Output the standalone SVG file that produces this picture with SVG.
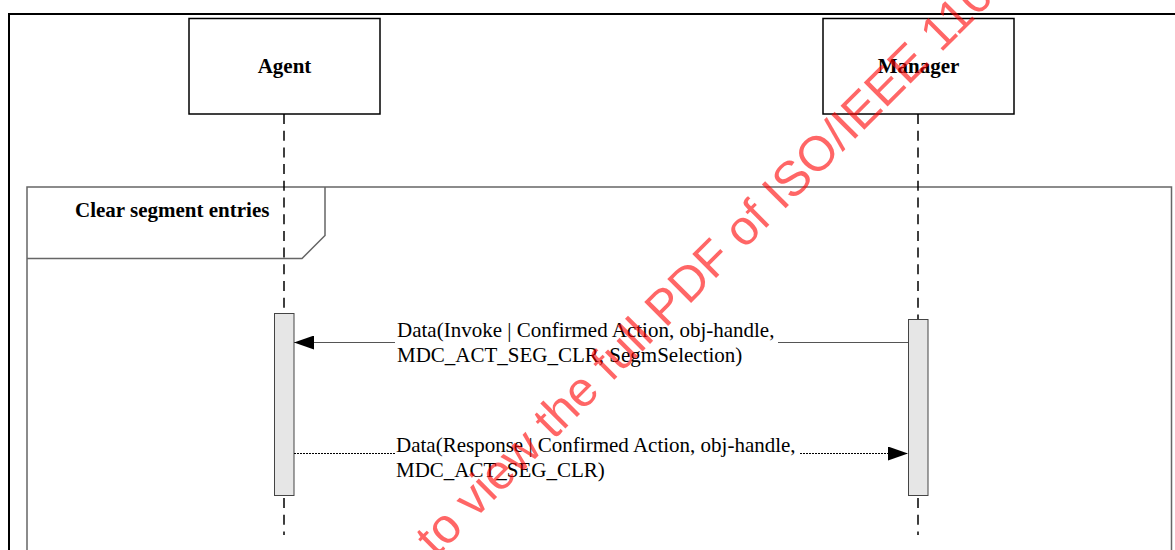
<svg xmlns="http://www.w3.org/2000/svg" width="1175" height="550" viewBox="0 0 1175 550">
<defs>
<style>
.lbl{font-family:"Liberation Serif","Times New Roman",serif;font-size:21px;font-weight:bold;fill:#000}
.msg{font-family:"Liberation Serif","Times New Roman",serif;font-size:21px;fill:#000}
.obj{fill:#fff;stroke:#000;stroke-width:1.5}
.life{stroke:#000;stroke-width:1.5;stroke-dasharray:10 6.7;fill:none}
.act{fill:#e6e6e6;stroke:#444;stroke-width:1}
.frag{fill:none;stroke:#666;stroke-width:1.5}
.wm{font-family:"Liberation Sans",Arial,sans-serif;font-size:49px;fill:#ff0000;fill-opacity:0.6}
</style>
<marker id="ah" markerWidth="20" markerHeight="14" refX="20" refY="7" orient="auto" markerUnits="userSpaceOnUse">
<path d="M0,0 L20,7 L0,14 Z" fill="#000"/>
</marker>
</defs>
<rect width="1175" height="550" fill="#fff"/>
<g id="outer-frame">
<path d="M9,551 L9,14 L1176,14" fill="none" stroke="#000" stroke-width="2"/>
</g>
<g id="fragment">
<path class="frag" d="M27,551 L27,187 L1171.5,187 L1171.5,551"/>
<path class="frag" d="M27,258.5 L302,258.5 L325,235.5 L325,187"/>
<text class="lbl" x="75" y="217">Clear segment entries</text>
</g>
<g id="agent">
<rect class="obj" x="189" y="18.5" width="191" height="95.5"/>
<text class="lbl" x="284.5" y="73" text-anchor="middle">Agent</text>
<line class="life" x1="284" y1="114" x2="284" y2="535"/>
<rect class="act" x="274.5" y="313.5" width="19.5" height="182"/>
</g>
<g id="manager">
<rect class="obj" x="823" y="18.5" width="191" height="95.5"/>
<text class="lbl" x="918.5" y="73" text-anchor="middle">Manager</text>
<line class="life" x1="918" y1="114" x2="918" y2="535"/>
<rect class="act" x="908.5" y="319.5" width="19.5" height="176"/>
</g>
<g id="connectors">
<g id="msg-invoke">
<line x1="908" y1="342.5" x2="778" y2="342.5" stroke="#555" stroke-width="1.2"/>
<line x1="395" y1="342.5" x2="294" y2="342.5" stroke="#555" stroke-width="1.2" marker-end="url(#ah)"/>
<text class="msg" x="397" y="337">Data(Invoke | Confirmed Action, obj-handle,</text>
<text class="msg" x="397" y="362">MDC_ACT_SEG_CLR, SegmSelection)</text>
</g>
<g id="msg-response">
<line x1="294" y1="453.5" x2="395" y2="453.5" stroke="#000" stroke-width="1.2" stroke-dasharray="2 1"/>
<line x1="800" y1="453.5" x2="908" y2="453.5" stroke="#000" stroke-width="1.2" stroke-dasharray="2 1" marker-end="url(#ah)"/>
<text class="msg" x="396" y="452">Data(Response | Confirmed Action, obj-handle,</text>
<text class="msg" x="396" y="477">MDC_ACT_SEG_CLR)</text>
</g>
</g>
<text class="wm" x="0" y="0" transform="translate(436,558) rotate(-45)">to view the full PDF of ISO/IEEE 1107</text>
</svg>
